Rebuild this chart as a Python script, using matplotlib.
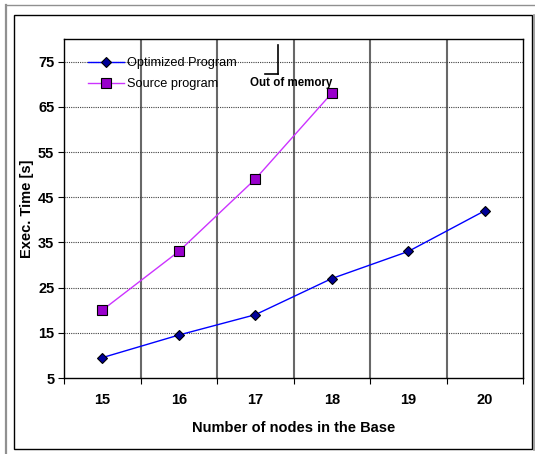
import matplotlib
matplotlib.use("Agg")
import matplotlib.pyplot as plt
from matplotlib.lines import Line2D
from matplotlib.patches import Rectangle
import numpy as np

nodes = [15, 16, 17, 18, 19, 20]
optimized = [9.5, 14.5, 19, 27, 33, 42]
source = [20, 33, 49, 68]
y_ticks = [5, 15, 25, 35, 45, 55, 65, 75]

plt.rcParams['font.family'] = ['Liberation Sans', 'DejaVu Sans']

W, H = 535, 454
fig = plt.figure(figsize=(W / 100, H / 100), dpi=100)
fig.patch.set_facecolor('white')

def fx(px):
    return px / W

def fy(py):
    return 1 - py / H

# outer frame lines
fig.add_artist(Line2D([fx(6), fx(6)], [fy(5), fy(454)], color='#909090', lw=1.6))
fig.add_artist(Line2D([fx(6), fx(535)], [fy(5), fy(5)], color='#909090', lw=1.0))
fig.add_artist(Rectangle((fx(14), fy(449)), fx(532) - fx(14), fy(15) - fy(449),
                         fill=False, edgecolor='black', lw=1.0))
fig.add_artist(Line2D([fx(533.5), fx(533.5)], [fy(15), fy(450)], color='#909090', lw=1.2))

left, right, top, bottom = 64, 523, 39, 378
ax = fig.add_axes([fx(left), fy(bottom), fx(right) - fx(left), fy(top) - fy(bottom)])

x = np.arange(len(nodes))
ax.set_xlim(-0.5, len(nodes) - 0.5)
ax.set_ylim(5, 80)

# vertical separators between categories
for b in np.arange(0.5, len(nodes) - 0.5, 1.0):
    ax.axvline(b, color='#686868', lw=1.5, zorder=1)
# dotted horizontal gridlines
for v in y_ticks[1:]:
    ax.axhline(v, color='#404040', lw=0.8, ls=(0, (1, 1)), zorder=1)

ax.plot(x, optimized, color='#0000FF', lw=1.0, marker='D', markersize=5.5,
        markerfacecolor='#000099', markeredgecolor='black', markeredgewidth=0.8,
        label='Optimized Program', zorder=3)
ax.plot(x[:len(source)], source, color='#CC33FF', lw=1.0, marker='s', markersize=6.5,
        markerfacecolor='#9900CC', markeredgecolor='black', markeredgewidth=0.8,
        label='Source program', zorder=3)

ax.set_yticks(y_ticks)
ax.set_yticklabels([str(v) for v in y_ticks], fontsize=10.5, fontweight='bold')
ax.set_xticks(x)
ax.set_xticklabels([str(n) for n in nodes], fontsize=10.5, fontweight='bold')
ax.tick_params(axis='x', length=0, pad=11)
ax.tick_params(axis='y', length=4, width=0.8, pad=3, direction='out')
ax.set_xticks(np.arange(-0.5, len(nodes)), minor=True)
ax.tick_params(axis='x', which='minor', length=4, width=0.8, direction='out')
for s in ax.spines.values():
    s.set_linewidth(1.0)
    s.set_color('black')

ax.set_xlabel('Number of nodes in the Base', fontsize=10.5, fontweight='bold', labelpad=10)
ax.set_ylabel('Exec. Time [s]', fontsize=10.5, fontweight='bold', labelpad=3)

# "Out of memory" marker
xm = 3 - 0.5 - (293.5 - 277.7) / 76.5
ax.plot([xm, xm], [78.6, 72.3], color='black', lw=1.2, zorder=4)
ax.plot([xm - (277.7 - 265) / 76.5, xm], [72.3, 72.3], color='black', lw=1.2, zorder=4)
ax.text(xm + (291 - 277.7) / 76.5, 70.3, 'Out of memory', fontsize=8.3, fontweight='bold',
        ha='center', va='center', zorder=5)

leg = ax.legend(loc='upper left', bbox_to_anchor=(fx(82), fy(51)),
                bbox_transform=fig.transFigure, frameon=False, fontsize=9.2,
                handlelength=2.8, handletextpad=0.25, labelspacing=0.7, borderpad=0)

fig.savefig('out.png', dpi=100, facecolor='white')
